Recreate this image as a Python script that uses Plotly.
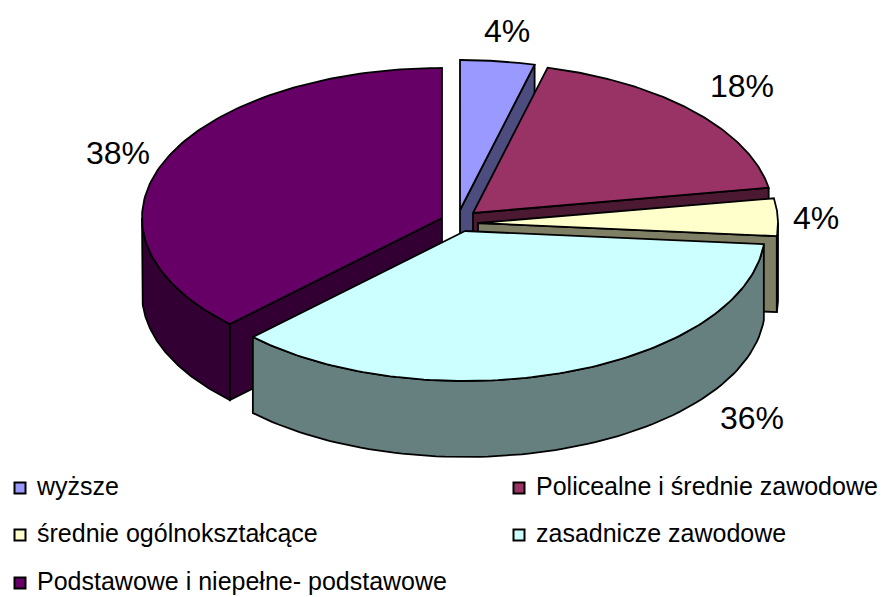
import numpy as np
import plotly.graph_objects as go

categories = ["wyższe", "Policealne i średnie zawodowe", "średnie ogólnokształcące",
              "zasadnicze zawodowe", "Podstawowe i niepełne- podstawowe"]
values = [4.0, 18.3, 4.1, 36.1, 37.5]
labels = ["4%", "18%", "4%", "36%", "38%"]
top_colors = ["#9999FF", "#993366", "#FFFFCC", "#CCFFFF", "#660066"]
side_colors = ["#4C4C7F", "#4C1933", "#7F7F66", "#667F7F", "#330033"]

# layout of the drawing, in page pixels
W, H = 884, 597
RX, RY, DEPTH = 300, 150, 76
apex = [(460, 210), (473, 213), (478, 223), (465, 231), (442, 218)]
label_pos = [(507, 34), (742, 89), (816, 221), (752, 421), (118, 156)]
swatch_pos = [(20, 488), (519, 488), (20, 535), (519, 535), (20, 583)]
text_gap = 17
draw_order = [0, 1, 2, 4, 3]

cum = np.concatenate([[0], np.cumsum(values)]) / sum(values) * 2 * np.pi
fig = go.Figure()
LW = 1.8


def pt(c, a):
    return c[0] + RX * np.sin(a), c[1] - RY * np.cos(a)


def face(xs, ys, color):
    xs, ys = list(xs), list(ys)
    fx = xs + [x for x in reversed(xs)] + [xs[0]]
    fy = ys + [y + DEPTH for y in reversed(ys)] + [ys[0]]
    fig.add_trace(go.Scatter(x=fx, y=fy, mode="lines", fill="toself", fillcolor=color,
                             line=dict(color="black", width=LW), showlegend=False,
                             hoverinfo="skip"))


for i in draw_order:
    a0, a1 = cum[i], cum[i + 1]
    c = apex[i]
    s = pt(c, a0)
    e = pt(c, a1)
    if s[0] < c[0]:
        face([c[0], s[0]], [c[1], s[1]], side_colors[i])
    if e[0] > c[0]:
        face([e[0], c[0]], [e[1], c[1]], side_colors[i])
    lo, hi = max(a0, np.pi / 2), min(a1, 3 * np.pi / 2)
    if hi > lo:
        t = np.linspace(lo, hi, 80)
        x, y = pt(c, t)
        face(x, y, side_colors[i])
    t = np.linspace(a0, a1, 120)
    x, y = pt(c, t)
    fig.add_trace(go.Scatter(x=[c[0], *x, c[0]], y=[c[1], *y, c[1]], mode="lines", fill="toself",
                             fillcolor=top_colors[i], line=dict(color="black", width=LW),
                             showlegend=False, name=categories[i], hoverinfo="skip"))

fig.add_trace(go.Scatter(x=[p[0] for p in label_pos], y=[p[1] for p in label_pos], mode="text",
                         text=labels, textposition="middle center",
                         textfont=dict(size=32, color="black"), showlegend=False, hoverinfo="skip"))

for name, color, p in zip(categories, top_colors, swatch_pos):
    fig.add_trace(go.Scatter(x=[p[0]], y=[p[1]], mode="markers", 
                             marker=dict(symbol="square", size=11, color=color,
                                         line=dict(color="black", width=2)),
                             showlegend=False, hoverinfo="skip"))
    fig.add_trace(go.Scatter(x=[p[0] + text_gap], y=[p[1] + 1], mode="text", text=[name],
                             textposition="middle right",
                             textfont=dict(size=25, color="black"),
                             showlegend=False, hoverinfo="skip"))

fig.update_layout(
    width=W, height=H, margin=dict(l=0, r=0, t=0, b=0), autosize=False,
    paper_bgcolor="white", plot_bgcolor="white",
    font=dict(family="Liberation Sans, Arial, sans-serif"),
    xaxis=dict(range=[0, W], visible=False, fixedrange=True),
    yaxis=dict(range=[H, 0], visible=False, fixedrange=True),
)
fig.write_html("out.html", config=dict(displayModeBar=False),
               post_script="document.body.style.margin='0';document.documentElement.style.overflow='hidden';")
